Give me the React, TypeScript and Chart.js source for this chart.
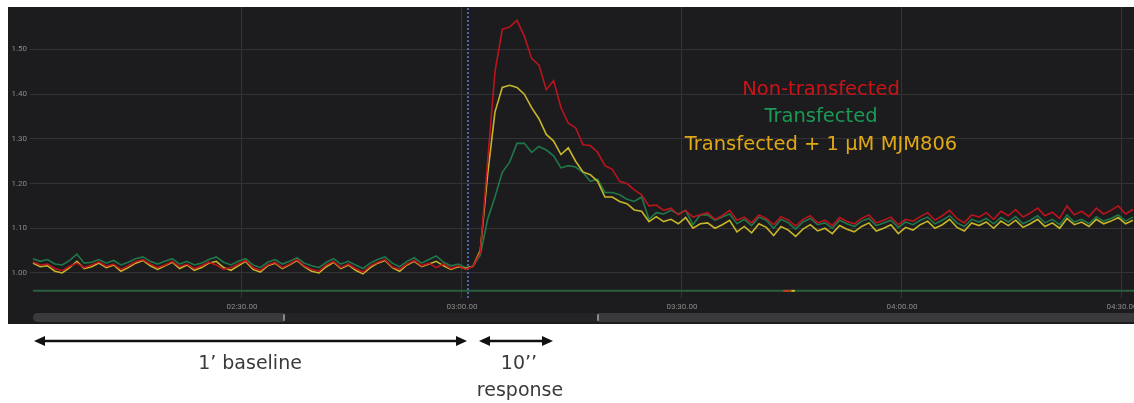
import React, { useEffect, useRef } from "react";
import { Chart, registerables } from "chart.js";

Chart.register(...registerables);

// ---------- data ----------
const startTime = 121.5; // seconds (02:01.5)
const sampleStep = 1; // seconds between samples

const nonTransfectedBaseline = [
  1.025, 1.018, 1.02, 1.01, 1.005, 1.015, 1.022, 1.012, 1.018, 1.025,
  1.015, 1.02, 1.008, 1.016, 1.025, 1.03, 1.02, 1.012, 1.018, 1.026,
  1.014, 1.02, 1.01, 1.016, 1.024, 1.018, 1.008, 1.012, 1.02, 1.028,
  1.012, 1.006, 1.018, 1.024, 1.012, 1.02, 1.03, 1.016, 1.008, 1.004,
  1.018, 1.026, 1.012, 1.02, 1.01, 1.002, 1.016, 1.024, 1.03, 1.014,
  1.008, 1.02, 1.028, 1.016, 1.022, 1.012, 1.02, 1.01, 1.016, 1.008,
];
const nonTransfectedResponse = [
  1.015, 1.045, 1.25, 1.45, 1.545, 1.55, 1.565, 1.53, 1.48, 1.465,
  1.41, 1.43, 1.37, 1.335, 1.325, 1.287, 1.285, 1.27, 1.24, 1.232,
  1.205, 1.2, 1.186, 1.175, 1.15, 1.152, 1.14, 1.145, 1.13, 1.14,
  1.125, 1.13,
];
const nonTransfectedTail = [
  1.135, 1.12, 1.128, 1.14, 1.118, 1.125, 1.112, 1.13, 1.122, 1.108,
  1.126, 1.118, 1.105, 1.12, 1.128, 1.112, 1.118, 1.106, 1.124, 1.115,
  1.11, 1.122, 1.13, 1.112, 1.118, 1.125, 1.108, 1.12, 1.116, 1.126,
  1.135, 1.118, 1.128, 1.14, 1.122, 1.112, 1.13, 1.125, 1.135, 1.12,
  1.138, 1.128, 1.142, 1.125, 1.134, 1.145, 1.128, 1.136, 1.122, 1.15,
  1.13, 1.138, 1.126, 1.145, 1.132, 1.14, 1.15, 1.132, 1.142,
];

const transfectedBaseline = [
  1.032, 1.026, 1.03, 1.02, 1.018, 1.028, 1.042, 1.022, 1.024, 1.03,
  1.022, 1.028, 1.018, 1.024, 1.032, 1.036, 1.026, 1.02, 1.026, 1.032,
  1.02, 1.026, 1.018, 1.022, 1.03, 1.036, 1.024, 1.018, 1.026, 1.032,
  1.018, 1.012, 1.024, 1.03, 1.02, 1.026, 1.034, 1.022, 1.016, 1.012,
  1.024, 1.032, 1.02, 1.026, 1.018, 1.01, 1.022, 1.03, 1.036, 1.022,
  1.014, 1.026, 1.034, 1.022, 1.03, 1.038, 1.024, 1.016, 1.02, 1.012,
];
const transfectedResponse = [
  1.015, 1.04, 1.12, 1.17, 1.225, 1.248, 1.29, 1.29, 1.27, 1.283,
  1.275, 1.262, 1.235, 1.24, 1.237, 1.225, 1.205, 1.21, 1.18, 1.18,
  1.175, 1.165, 1.16, 1.17, 1.12, 1.135, 1.132, 1.14, 1.132, 1.14,
  1.108, 1.13,
];
const transfectedTail = [
  1.13, 1.118, 1.125, 1.132, 1.11, 1.12, 1.106, 1.125, 1.118, 1.1,
  1.12, 1.112, 1.098, 1.114, 1.122, 1.108, 1.112, 1.1, 1.118, 1.11,
  1.104, 1.116, 1.122, 1.106, 1.112, 1.118, 1.102, 1.114, 1.108, 1.118,
  1.125, 1.11, 1.118, 1.128, 1.112, 1.104, 1.12, 1.114, 1.122, 1.11,
  1.124, 1.114, 1.126, 1.11, 1.118, 1.128, 1.112, 1.12, 1.108, 1.13,
  1.114, 1.12, 1.11, 1.126, 1.116, 1.122, 1.13, 1.116, 1.125,
];

const inhibitorBaseline = [
  1.022, 1.014, 1.016, 1.004, 1.0, 1.012, 1.026, 1.01, 1.014, 1.022,
  1.012, 1.018, 1.004, 1.012, 1.022, 1.028, 1.016, 1.008, 1.016, 1.024,
  1.01, 1.018, 1.006, 1.012, 1.022, 1.026, 1.012, 1.006, 1.016, 1.026,
  1.008, 1.002, 1.016, 1.022, 1.01, 1.018, 1.028, 1.014, 1.004, 1.0,
  1.014, 1.024, 1.01, 1.018, 1.006, 0.998, 1.012, 1.022, 1.028, 1.012,
  1.004, 1.018, 1.026, 1.014, 1.02, 1.026, 1.016, 1.008, 1.014, 1.01,
];
const inhibitorResponse = [
  1.015, 1.05, 1.22, 1.36, 1.415, 1.42, 1.415, 1.4, 1.37, 1.345,
  1.31, 1.295, 1.265, 1.28, 1.25, 1.226, 1.22, 1.205, 1.17, 1.17,
  1.16, 1.155, 1.141, 1.138, 1.115, 1.126, 1.115, 1.12, 1.11, 1.124,
  1.1, 1.11,
];
const inhibitorTail = [
  1.112, 1.1, 1.108, 1.118, 1.092, 1.104, 1.09, 1.11, 1.102, 1.084,
  1.104, 1.096, 1.082, 1.098, 1.108, 1.094, 1.1, 1.088, 1.106, 1.098,
  1.092, 1.104, 1.112, 1.094, 1.1, 1.108, 1.088, 1.102, 1.096, 1.108,
  1.116, 1.1, 1.108, 1.12, 1.102, 1.094, 1.112, 1.106, 1.114, 1.1,
  1.116, 1.106, 1.118, 1.102, 1.11, 1.12, 1.104, 1.112, 1.1, 1.122,
  1.108, 1.114, 1.104, 1.12, 1.11, 1.116, 1.124, 1.11, 1.118,
];

const seriesNames = ["Non-transfected", "Transfected", "Transfected + 1 µM MJM806"];

const xTickValues = [150, 180, 210, 240, 270];
const xTickLabels = ["02:30.00", "03:00.00", "03:30.00", "04:00.00", "04:30.00"];
const yTickValues = [1.0, 1.1, 1.2, 1.3, 1.4, 1.5];

const xMin = 121.1;
const xMax = 271.64;
const yMin = 0.944;
const yMax = 1.595;

const stimulusTime = 180.82;
const trackLevel = 0.96;
const trackEventRed = [223.8, 224.9];
const trackEventYellow = [224.9, 225.4];

const baselineLabel = "1’ baseline";
const responseLabelTop = "10’’";
const responseLabelBottom = "response";

// ---------- styles ----------
const RED = "#bb141c";
const GREEN = "#1f774a";
const YELLOW = "#c6b528";
const PANEL_BG = "#1c1c1e";
const GRID = "#333336";
const TICK = "#8a8a8a";

function toPoints(values: number[]) {
  return values.map((v, i) => ({ x: startTime + i * sampleStep, y: v }));
}

export default function App() {
  const canvasRef = useRef<HTMLCanvasElement | null>(null);

  useEffect(() => {
    if (!canvasRef.current) return;
    const red = [...nonTransfectedBaseline, ...nonTransfectedResponse, ...nonTransfectedTail];
    const green = [...transfectedBaseline, ...transfectedResponse, ...transfectedTail];
    const yellow = [...inhibitorBaseline, ...inhibitorResponse, ...inhibitorTail];

    const chart = new Chart(canvasRef.current, {
      type: "line",
      data: {
        datasets: [
          {
            label: seriesNames[0],
            data: toPoints(red),
            borderColor: RED,
            borderWidth: 1.6,
            pointRadius: 0,
            tension: 0,
          },
          {
            label: seriesNames[2],
            data: toPoints(yellow),
            borderColor: YELLOW,
            borderWidth: 1.6,
            pointRadius: 0,
            tension: 0,
          },
          {
            label: seriesNames[1],
            data: toPoints(green),
            borderColor: GREEN,
            borderWidth: 1.6,
            pointRadius: 0,
            tension: 0,
          },
          {
            label: "stimulus",
            data: [
              { x: stimulusTime, y: yMin },
              { x: stimulusTime, y: yMax },
            ],
            borderColor: "#5b7fd6",
            borderWidth: 1.5,
            borderDash: [2, 2],
            pointRadius: 0,
          },
          {
            label: "eventRed",
            data: trackEventRed.map((t) => ({ x: t, y: trackLevel })),
            borderColor: "#c0401e",
            borderWidth: 2,
            pointRadius: 0,
          },
          {
            label: "eventYellow",
            data: trackEventYellow.map((t) => ({ x: t, y: trackLevel })),
            borderColor: "#b8c020",
            borderWidth: 2,
            pointRadius: 0,
          },
          {
            label: "track",
            data: [
              { x: startTime, y: trackLevel },
              { x: xMax, y: trackLevel },
            ],
            borderColor: "#2a5e40",
            borderWidth: 2,
            pointRadius: 0,
          },
        ],
      },
      options: {
        responsive: false,
        maintainAspectRatio: false,
        animation: false,
        layout: { padding: 0 },
        plugins: {
          legend: { display: false },
          tooltip: { enabled: false },
        },
        scales: {
          x: {
            type: "linear",
            min: xMin,
            max: xMax,
            afterBuildTicks: (s: any) => {
              s.ticks = xTickValues.map((v) => ({ value: v }));
            },
            afterFit: (s: any) => {
              s.height = 26;
              s.paddingLeft = 0;
              s.paddingRight = 0;
            },
            ticks: {
              autoSkip: false,
              maxRotation: 0,
              padding: 4,
              color: TICK,
              font: { family: "Roboto", size: 8 },
              callback: (v: any) => {
                const i = xTickValues.indexOf(Number(v));
                return i >= 0 ? xTickLabels[i] : "";
              },
            },
            grid: { color: GRID, lineWidth: 1, drawTicks: false },
            border: { display: false },
          },
          y: {
            type: "linear",
            min: yMin,
            max: yMax,
            afterBuildTicks: (s: any) => {
              s.ticks = yTickValues.map((v) => ({ value: v }));
            },
            afterFit: (s: any) => {
              s.width = 22;
              s.paddingTop = 0;
              s.paddingBottom = 0;
            },
            ticks: {
              padding: 3,
              color: TICK,
              font: { family: "Roboto", size: 8 },
              callback: (v: any) => Number(v).toFixed(2),
            },
            grid: { color: GRID, lineWidth: 1, drawTicks: false },
            border: { display: false },
          },
        },
      },
    });
    return () => chart.destroy();
  }, []);

  const legendStyle = (color: string, top: number): React.CSSProperties => ({
    position: "absolute",
    left: 821,
    top,
    transform: "translate(-50%, -50%)",
    color,
    fontFamily: "'DejaVu Sans', sans-serif",
    fontSize: 19.5,
    whiteSpace: "nowrap",
    lineHeight: 1,
  });

  const annotStyle = (left: number, top: number): React.CSSProperties => ({
    position: "absolute",
    left,
    top,
    transform: "translate(-50%, -50%)",
    color: "#3a3a3a",
    fontFamily: "'DejaVu Sans', sans-serif",
    fontSize: 19,
    whiteSpace: "nowrap",
    lineHeight: 1,
  });

  return (
    <div
      style={{
        position: "absolute",
        left: 0,
        top: 0,
        width: 1134,
        height: 403,
        background: "#ffffff",
        overflow: "hidden",
      }}
    >
      <div
        style={{
          position: "absolute",
          left: 8,
          top: 7,
          width: 1126,
          height: 317,
          background: PANEL_BG,
        }}
      >
        <canvas ref={canvasRef} width={1126} height={317} style={{ display: "block" }} />
        {/* scrollbar */}
        <div style={{ position: "absolute", left: 25, top: 306, width: 251, height: 9, background: "#3a3a3c", borderRadius: "5px 0 0 5px" }} />
        <div style={{ position: "absolute", left: 276, top: 306, width: 314, height: 9, background: "#242426" }} />
        <div style={{ position: "absolute", left: 590, top: 306, width: 536, height: 9, background: "#3a3a3c" }} />
        <div style={{ position: "absolute", left: 275, top: 307, width: 2, height: 7, background: "#8a8a8a", borderRadius: 1 }} />
        <div style={{ position: "absolute", left: 589, top: 307, width: 2, height: 7, background: "#8a8a8a", borderRadius: 1 }} />
      </div>

      <div style={legendStyle("#cc1418", 89)}>{seriesNames[0]}</div>
      <div style={legendStyle("#1a9a55", 116)}>{seriesNames[1]}</div>
      <div style={legendStyle("#e0a816", 144)}>{seriesNames[2]}</div>

      <svg
        width={1134}
        height={403}
        style={{ position: "absolute", left: 0, top: 0, pointerEvents: "none" }}
      >
        <line x1={42} y1={341} x2={458} y2={341} stroke="#111" strokeWidth={2.5} />
        <polygon points="34,341 45,336 45,346" fill="#111" />
        <polygon points="467,341 456,336 456,346" fill="#111" />
        <line x1={487} y1={341} x2={545} y2={341} stroke="#111" strokeWidth={2.5} />
        <polygon points="479,341 490,336 490,346" fill="#111" />
        <polygon points="553,341 542,336 542,346" fill="#111" />
      </svg>

      <div style={annotStyle(250, 362)}>{baselineLabel}</div>
      <div style={annotStyle(519, 362)}>{responseLabelTop}</div>
      <div style={annotStyle(520, 389)}>{responseLabelBottom}</div>
    </div>
  );
}
